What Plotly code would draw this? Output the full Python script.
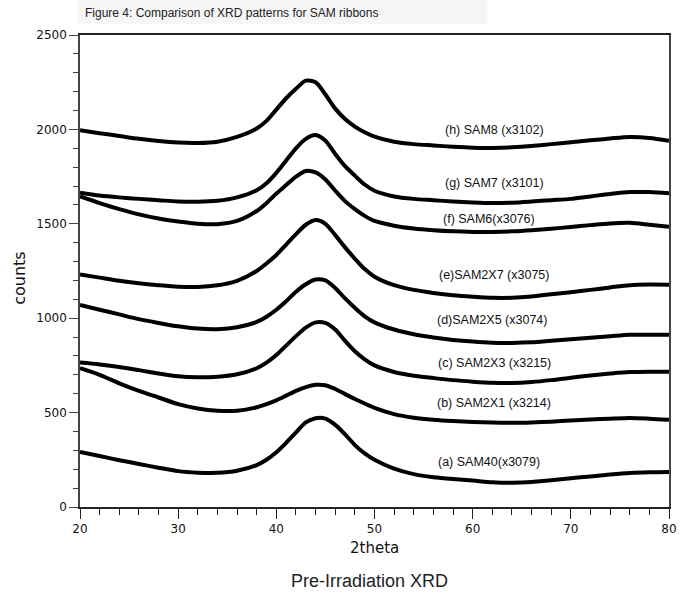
import plotly.graph_objects as go

two_theta = [20, 22, 24, 26, 28, 30, 32, 34, 36, 38, 39, 40, 41, 42, 43, 44, 45, 46, 47, 48,
             49, 50, 52, 54, 56, 58, 60, 62, 64, 66, 68, 70, 72, 74, 76, 78, 80]

sam8 = [1995, 1980, 1965, 1950, 1938, 1930, 1928, 1935, 1960, 2005, 2045, 2105, 2165, 2215, 2258, 2250, 2185, 2110, 2055, 2015,
        1985, 1962, 1935, 1922, 1915, 1908, 1903, 1902, 1905, 1912, 1922, 1932, 1942, 1952, 1960, 1955, 1940]
sam7 = [1665, 1650, 1640, 1632, 1625, 1618, 1617, 1622, 1640, 1678, 1715, 1770, 1835, 1900, 1950, 1970, 1940, 1870, 1805, 1755,
        1708, 1675, 1645, 1632, 1625, 1618, 1613, 1610, 1612, 1618, 1625, 1632, 1645, 1658, 1668, 1668, 1662]
sam6 = [1645, 1610, 1578, 1550, 1528, 1512, 1500, 1498, 1515, 1568, 1610, 1660, 1705, 1750, 1780, 1772, 1735, 1675, 1620, 1578,
        1542, 1515, 1490, 1475, 1466, 1460, 1457, 1457, 1460, 1466, 1474, 1483, 1493, 1502, 1505, 1495, 1484]
sam2x7 = [1232, 1215, 1198, 1185, 1175, 1167, 1165, 1174, 1198, 1250, 1290, 1335, 1390, 1445, 1495, 1520, 1500, 1440, 1375, 1315,
          1260, 1220, 1175, 1150, 1134, 1122, 1114, 1108, 1108, 1115, 1127, 1138, 1150, 1163, 1175, 1178, 1177]
sam2x5 = [1070, 1045, 1020, 995, 975, 957, 945, 942, 952, 980, 1008, 1045, 1090, 1140, 1180, 1205, 1200, 1160, 1105, 1055,
          1010, 978, 940, 915, 898, 885, 876, 870, 869, 872, 880, 888, 896, 904, 912, 913, 912]
sam2x3 = [765, 755, 742, 725, 707, 692, 687, 690, 703, 735, 765, 805, 855, 905, 950, 978, 975, 940, 880, 825,
          782, 750, 715, 695, 683, 672, 664, 658, 657, 662, 672, 685, 697, 707, 715, 717, 716]
sam2x1 = [735, 700, 655, 615, 580, 545, 522, 510, 510, 528, 545, 565, 590, 615, 635, 647, 645, 625, 598, 572,
          548, 525, 492, 473, 462, 455, 450, 447, 446, 448, 452, 458, 463, 468, 472, 468, 462]
sam40 = [292, 270, 248, 228, 208, 190, 182, 181, 192, 222, 250, 290, 340, 395, 448, 470, 468, 435, 385, 328,
         284, 250, 203, 174, 158, 148, 140, 131, 128, 132, 142, 152, 162, 172, 180, 184, 186]

series = [sam40, sam2x1, sam2x3, sam2x5, sam2x7, sam6, sam7, sam8]
labels = ["(a) SAM40(x3079)", "(b) SAM2X1 (x3214)", "(c) SAM2X3 (x3215)", "(d)SAM2X5 (x3074)",
          "(e)SAM2X7 (x3075)", "(f) SAM6(x3076)", "(g) SAM7 (x3101)", "(h) SAM8 (x3102)"]
label_x = [61.7, 62.2, 62.2, 62.0, 62.2, 61.7, 62.2, 62.2]
label_y = [239, 551, 763, 991, 1230, 1526, 1717, 1995]

fig = go.Figure()
for s in series:
    fig.add_trace(go.Scatter(x=two_theta, y=s, mode="lines",
                             line=dict(color="black", width=4, shape="spline", smoothing=0.8),
                             showlegend=False, hoverinfo="skip"))

for t, lx, ly in zip(labels, label_x, label_y):
    fig.add_annotation(x=lx, y=ly, text=t, showarrow=False,
                       font=dict(family="Liberation Sans, Arial", size=12.5, color="#111"))

L, R, T, B = 80, 677, 35, 507
W, H = 685, 598


def px(xp):
    return (xp - L) / (R - L)


def py(yp):
    return (B - yp) / (B - T)


fig.add_shape(type="rect", xref="paper", yref="paper", x0=px(78), x1=px(493), y0=py(24), y1=py(0),
              fillcolor="#f6f6f6", line=dict(width=0), layer="below")
fig.add_annotation(xref="paper", yref="paper", x=px(83), y=py(13), xanchor="left", yanchor="middle",
                   text="Figure 4: Comparison of XRD patterns for SAM ribbons", showarrow=False,
                   font=dict(family="Liberation Sans, Arial", size=12, color="#222"))
fig.add_annotation(xref="paper", yref="paper", x=px(378), y=py(548), xanchor="center", yanchor="middle",
                   text="2theta", showarrow=False,
                   font=dict(family="DejaVu Sans", size=15, color="#111"))
fig.add_annotation(xref="paper", yref="paper", x=px(18), y=py(278), xanchor="center", yanchor="middle",
                   text="counts", textangle=-90, showarrow=False,
                   font=dict(family="DejaVu Sans", size=16, color="#111"))
fig.add_annotation(xref="paper", yref="paper", x=px(373), y=py(581), xanchor="center", yanchor="middle",
                   text="Pre-Irradiation XRD", showarrow=False,
                   font=dict(family="Liberation Sans, Arial", size=18, color="#222"))

fig.update_layout(
    width=W, height=H,
    margin=dict(l=L, r=W - R, t=T, b=H - B),
    paper_bgcolor="white", plot_bgcolor="white",
    showlegend=False,
)
fig.update_xaxes(range=[20, 80], tickvals=[20, 30, 40, 50, 60, 70, 80], ticks="outside", ticklen=10,
                 tickwidth=1, tickcolor="#222", showgrid=False, zeroline=False,
                 showline=True, linecolor="#222", linewidth=1.5, mirror=True,
                 minor=dict(dtick=2, ticks="outside", ticklen=6, tickcolor="#222", showgrid=False),
                 tickfont=dict(family="DejaVu Sans", size=12, color="#111"))
fig.update_yaxes(range=[0, 2500], tickvals=[0, 500, 1000, 1500, 2000, 2500], ticks="outside", ticklen=9,
                 tickwidth=1, tickcolor="#444", showgrid=False, zeroline=False,
                 showline=True, linecolor="#444", linewidth=1.5, mirror=True,
                 minor=dict(dtick=100, ticks="outside", ticklen=5, tickcolor="#444", showgrid=False),
                 tickfont=dict(family="DejaVu Sans", size=12, color="#111"))

fig.write_html("out.html")
